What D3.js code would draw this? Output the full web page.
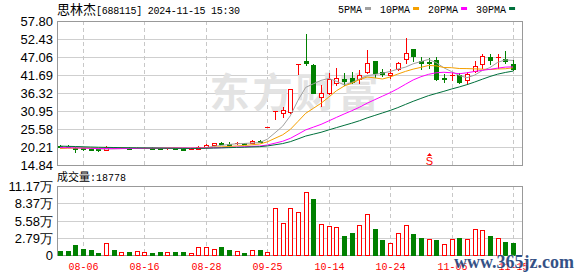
<!DOCTYPE html>
<html lang="zh">
<head>
	<meta charset="UTF-8">
	<title>思林杰 日K</title>
	<script src="https://cdn.jsdelivr.net/npm/d3@7/dist/d3.min.js"></script>
	<style>
		body { margin: 0; background: #fff; }
		svg { display: block; }
	</style>
</head>
<body>
	<script>
	const stockName = '思林杰'
	const stockInfo = '[688115] 2024-11-15 15:30'

	const dates = [
		'08-01', '08-02', '08-05', '08-06', '08-07', '08-08', '08-09', '08-12', '08-13', '08-14',
		'08-15', '08-16', '08-19', '08-20', '08-21', '08-22', '08-23', '08-26', '08-27', '08-28',
		'09-12', '09-13', '09-18', '09-19', '09-20', '09-23', '09-24', '09-25', '09-26', '09-27',
		'09-30', '10-08', '10-09', '10-10', '10-11', '10-14', '10-15', '10-16', '10-17', '10-18',
		'10-21', '10-22', '10-23', '10-24', '10-25', '10-28', '10-29', '10-30', '10-31', '11-01',
		'11-04', '11-05', '11-06', '11-07', '11-08', '11-11', '11-12', '11-13', '11-14', '11-15'
	]
	const open = [
		20.6, 20.6, 20.0, 19.9, 19.7, 19.5, 19.4, 20.1, 19.9, 20.0,
		19.9, 20.0, 20.05, 19.95, 19.8, 19.9, 19.75, 19.6, 19.7, 20.3,
		20.9, 21.5, 21.2, 21.2, 21.4, 21.4, 22.1, 26.16, 30.9, 30.5,
		30.6, 44.9, 45.8, 44.7, 35.0, 36.4, 39.2, 40.4, 40.9, 40.4,
		42.7, 45.9, 42.6, 41.7, 43.4, 46.4, 49.4, 45.9, 45.5, 46.2,
		40.9, 41.5, 41.7, 40.2, 43.0, 44.9, 47.0, 46.7, 46.4, 45.0
	]
	const high = [
		20.7, 20.8, 20.1, 20.0, 19.8, 19.6, 20.6, 20.2, 20.1, 20.1,
		20.1, 20.1, 20.1, 20.0, 19.9, 19.95, 19.8, 19.8, 20.5, 21.0,
		21.5, 21.7, 21.6, 21.6, 21.5, 22.2, 22.3, 26.16, 30.95, 32.05,
		37.5, 45.0, 54.0, 44.9, 38.7, 42.4, 43.7, 42.2, 42.7, 43.2,
		49.1, 45.9, 43.4, 43.4, 45.7, 52.6, 49.4, 47.0, 46.7, 47.0,
		41.9, 42.5, 42.2, 42.7, 45.9, 47.9, 47.9, 47.9, 48.9, 46.2
	]
	const low = [
		20.2, 20.3, 18.8, 19.2, 19.2, 19.1, 19.3, 19.8, 19.8, 19.8,
		19.8, 19.9, 19.9, 19.7, 19.7, 19.7, 19.6, 19.55, 19.6, 20.2,
		20.8, 21.1, 21.0, 21.1, 21.2, 21.3, 21.6, 26.16, 28.6, 29.25,
		30.3, 41.9, 44.7, 36.24, 32.4, 36.0, 38.7, 38.7, 39.2, 39.2,
		42.2, 41.2, 41.4, 40.7, 43.2, 45.2, 46.0, 43.4, 43.7, 40.2,
		39.6, 40.2, 39.2, 39.0, 42.7, 43.7, 44.9, 43.9, 45.2, 43.2
	]
	const close = [
		20.4, 20.35, 19.7, 19.5, 19.4, 19.3, 20.1, 19.9, 20.0, 19.9,
		20.0, 20.05, 19.95, 19.8, 19.85, 19.75, 19.65, 19.7, 20.3, 20.9,
		21.3, 21.2, 21.1, 21.4, 21.3, 22.0, 21.8, 26.16, 30.9, 31.25,
		37.5, 45.0, 45.3, 36.24, 36.4, 40.4, 40.7, 40.0, 39.7, 41.7,
		45.4, 42.4, 42.0, 42.2, 45.2, 48.4, 47.4, 45.3, 45.35, 40.5,
		40.6, 41.8, 39.5, 42.0, 44.4, 47.4, 46.2, 47.2, 45.9, 43.4
	]
	const volume = [
		6500, 6500, 16200, 9700, 8100, 3200, 18900, 8100, 4300, 4900,
		6500, 4300, 3200, 4900, 4300, 4900, 4900, 3200, 13500, 12400,
		9200, 12400, 8100, 6500, 3200, 8100, 8100, 4900, 75600, 51300,
		75600, 69100, 102500, 90700, 50200, 47000, 44800, 30800, 36100, 48600,
		66400, 42100, 24300, 18900, 35100, 48600, 34000, 27000, 25400, 24300,
		17300, 25400, 27000, 25400, 41500, 39900, 30800, 27000, 21000, 18778
	]
	// closes before the first visible day, only used by the moving averages
	const earlierCloses = [
		21.8, 21.6, 21.7, 21.5, 21.4, 21.2, 21.3, 21.0, 20.9, 21.1,
		20.8, 20.7, 20.9, 20.6, 20.5, 20.3, 20.2, 20.0, 19.6, 19.4,
		19.3, 19.2, 19.4, 19.5, 19.3, 19.6, 19.9, 20.2, 20.6
	]

	const priceTicks = [14.84, 20.21, 25.58, 30.95, 36.32, 41.69, 47.06, 52.43, 57.80]
	const volumeTicks = [0, 27925, 55850, 83775, 111700]
	const volumeTickLabels = ['0', '2.79万', '5.58万', '8.37万', '11.17万']
	const dateTicks = ['08-06', '08-16', '08-28', '09-25', '10-14', '10-24', '11-05', '11-15']
	const maPeriods = [5, 10, 20, 30]
	const maNames = ['5PMA', '10PMA', '20PMA', '30PMA']
	const maColors = ['#a0a0a0', '#f5a000', '#ff00ff', '#00703c']
	const signals = [{ date: '10-31', label: 'S' }]

	const RED = '#ff0000', GREEN = '#008000'
	const mono = '"Liberation Mono", "DejaVu Sans Mono", monospace'
	const sans = '"Liberation Sans", Arial, sans-serif'
	const cjk = '"Noto Sans CJK SC", sans-serif'

	const W = 578, H = 276
	const left = 57, right = 522
	const pTop = 21, pBottom = 165
	const vTop = 186, vBottom = 255

	let svg = d3.select('body').append('svg')
		.attr('width', W)
		.attr('height', H)

	let x = d3.scalePoint().domain(dates).range([60, 513])
	let y = d3.scaleLinear().domain([priceTicks[0], priceTicks[priceTicks.length - 1]]).range([pBottom, pTop])
	let yv = d3.scaleLinear().domain([0, volumeTicks[volumeTicks.length - 1]]).range([vBottom, vTop])
	let cx = d => Math.round(x(d))

	// grids
	let grid = svg.append('g')
	grid.selectAll('.hp')
		.data(priceTicks.slice(1, -1))
		.enter().append('line')
		.attr('x1', left).attr('x2', right)
		.attr('y1', d => Math.round(y(d)) + 0.5).attr('y2', d => Math.round(y(d)) + 0.5)
		.attr('stroke', '#cfcfcf')
	grid.selectAll('.hv')
		.data(volumeTicks.slice(1, -1))
		.enter().append('line')
		.attr('x1', left).attr('x2', right)
		.attr('y1', d => Math.round(yv(d)) + 0.5).attr('y2', d => Math.round(yv(d)) + 0.5)
		.attr('stroke', '#cfcfcf')
	;[[pTop, pBottom], [vTop, vBottom]].forEach(r => {
		grid.selectAll(null)
			.data(dateTicks)
			.enter().append('line')
			.attr('x1', d => cx(d) + 0.5).attr('x2', d => cx(d) + 0.5)
			.attr('y1', r[0]).attr('y2', r[1])
			.attr('stroke', '#c8c8c8')
			.attr('stroke-dasharray', '4,3')
	})

	// watermark
	svg.append('text')
		.attr('x', (left + right) / 2 + 6)
		.attr('y', (pTop + pBottom) / 2 + 14)
		.attr('text-anchor', 'middle')
		.attr('font-family', cjk)
		.attr('font-weight', 'bold')
		.attr('font-size', 40)
		.attr('letter-spacing', 3)
		.attr('fill', '#e3e3e3')
		.text('东方财富')

	// borders
	svg.append('rect')
		.attr('x', left + 0.5).attr('y', pTop + 0.5)
		.attr('width', right - left).attr('height', pBottom - pTop)
		.attr('fill', 'none').attr('stroke', '#999')
	svg.append('rect')
		.attr('x', left + 0.5).attr('y', vTop + 0.5)
		.attr('width', right - left).attr('height', vBottom - vTop)
		.attr('fill', 'none').attr('stroke', '#999')

	// candles
	let candles = svg.append('g').selectAll('g')
		.data(dates.map((d, i) => ({ d: d, o: open[i], h: high[i], l: low[i], c: close[i] })))
		.enter().append('g')
	candles.append('line')
		.attr('x1', d => cx(d.d) + 0.5).attr('x2', d => cx(d.d) + 0.5)
		.attr('y1', d => Math.round(y(d.h))).attr('y2', d => Math.round(y(d.l)) + 1)
		.attr('stroke', d => d.c >= d.o ? RED : GREEN)
	candles.each(function (d) {
		let g = d3.select(this)
		let top = Math.round(y(Math.max(d.o, d.c)))
		let bot = Math.round(y(Math.min(d.o, d.c)))
		let h = bot - top
		if (d.c >= d.o && h > 1) {
			g.append('rect')
				.attr('x', cx(d.d) - 1.5).attr('y', top + 0.5)
				.attr('width', 4).attr('height', h)
				.attr('fill', '#fff').attr('stroke', RED)
		} else {
			g.append('rect')
				.attr('x', cx(d.d) - 2).attr('y', top)
				.attr('width', 5).attr('height', Math.max(h, 1) + (d.c >= d.o ? 0 : 1))
				.attr('fill', d.c >= d.o ? RED : GREEN)
		}
	})

	// moving averages
	let allCloses = earlierCloses.concat(close)
	let offset = earlierCloses.length
	let line = d3.line()
		.defined(d => d != null)
		.x((d, i) => x(dates[i]))
		.y(d => y(d))
	maPeriods.forEach((n, k) => {
		let ma = close.map((c, i) => {
			let end = offset + i + 1
			return end >= n ? d3.mean(allCloses.slice(end - n, end)) : null
		})
		svg.append('path')
			.attr('d', line(ma))
			.attr('fill', 'none')
			.attr('stroke', maColors[k])
			.attr('stroke-width', 1)
	})

	// signal marks
	signals.forEach(s => {
		let sx = cx(s.date) + 0.5
		svg.append('path')
			.attr('d', `M${sx - 2.5},${pBottom - 9}L${sx},${pBottom - 12}L${sx + 2.5},${pBottom - 9}Z`)
			.attr('fill', RED)
		svg.append('text')
			.attr('x', sx).attr('y', pBottom - 0.5)
			.attr('text-anchor', 'middle')
			.attr('font-family', sans)
			.attr('font-size', 11)
			.attr('fill', RED)
			.text(s.label)
	})

	// volume bars
	let vbars = svg.append('g').selectAll('g')
		.data(dates.map((d, i) => ({ d: d, v: volume[i], up: close[i] >= (i ? close[i - 1] : earlierCloses[offset - 1]) })))
		.enter().append('g')
	vbars.each(function (d) {
		let g = d3.select(this)
		let top = Math.round(yv(d.v))
		if (d.up) {
			g.append('rect')
				.attr('x', cx(d.d) - 1.5).attr('y', top + 0.5)
				.attr('width', 4).attr('height', vBottom - top)
				.attr('fill', '#fff').attr('stroke', RED)
		} else {
			g.append('rect')
				.attr('x', cx(d.d) - 2).attr('y', top)
				.attr('width', 5).attr('height', vBottom - top + 1)
				.attr('fill', GREEN)
		}
	})

	// axes
	let yAxis = svg.append('g')
		.attr('transform', `translate(${left},0)`)
		.call(d3.axisLeft(y).tickValues(priceTicks).tickFormat(d3.format('.2f')).tickSize(0).tickPadding(4))
	let vAxis = svg.append('g')
		.attr('transform', `translate(${left},0)`)
		.call(d3.axisLeft(yv).tickValues(volumeTicks).tickFormat((d, i) => volumeTickLabels[i]).tickSize(0).tickPadding(4))
	;[yAxis, vAxis].forEach(a => {
		a.select('.domain').remove()
		a.selectAll('text')
			.attr('font-family', sans)
			.attr('font-size', 13)
			.attr('fill', '#000')
	})
	vAxis.selectAll('text').attr('dy', '0.36em')

	svg.append('g').selectAll('text')
		.data(dateTicks)
		.enter().append('text')
		.attr('x', d => cx(d) + 0.5)
		.attr('y', 270)
		.attr('text-anchor', 'middle')
		.attr('font-family', mono)
		.attr('font-size', 10)
		.attr('fill', RED)
		.text(d => d)

	// title
	let title = svg.append('text')
		.attr('x', left)
		.attr('y', 14)
	title.append('tspan')
		.attr('font-family', cjk)
		.attr('font-size', 13)
		.text(stockName)
	title.append('tspan')
		.attr('font-family', mono)
		.attr('font-size', 10)
		.attr('textLength', 144)
		.attr('lengthAdjust', 'spacing')
		.text(stockInfo)

	// legend
	let lx = 338
	maNames.forEach((name, k) => {
		let t = svg.append('text')
			.attr('x', lx).attr('y', 12.5)
			.attr('font-family', mono)
			.attr('font-size', 10)
			.attr('fill', '#000')
			.text(name)
		lx += t.node().getComputedTextLength() + 3
		svg.append('rect')
			.attr('x', lx).attr('y', 7)
			.attr('width', 6).attr('height', 3)
			.attr('fill', maColors[k])
		lx += 6 + 9
	})

	// volume caption
	let vcap = svg.append('text')
		.attr('x', left)
		.attr('y', 181)
	vcap.append('tspan')
		.attr('font-family', cjk)
		.attr('font-size', 11)
		.text('成交量')
	vcap.append('tspan')
		.attr('font-family', mono)
		.attr('font-size', 10)
		.text(':' + volume[volume.length - 1])

	// site mark
	svg.append('text')
		.attr('x', W - 4)
		.attr('y', 268)
		.attr('text-anchor', 'end')
		.attr('font-family', '"Liberation Serif", "DejaVu Serif", serif')
		.attr('font-weight', 'bold')
		.attr('font-size', 18)
		.attr('fill', '#1d3f7a')
		.attr('stroke', '#fff')
		.attr('stroke-width', 0.6)
		.attr('paint-order', 'stroke')
		.attr('opacity', 0.9)
		.text('www.365jz.com')
	</script>
</body>
</html>
